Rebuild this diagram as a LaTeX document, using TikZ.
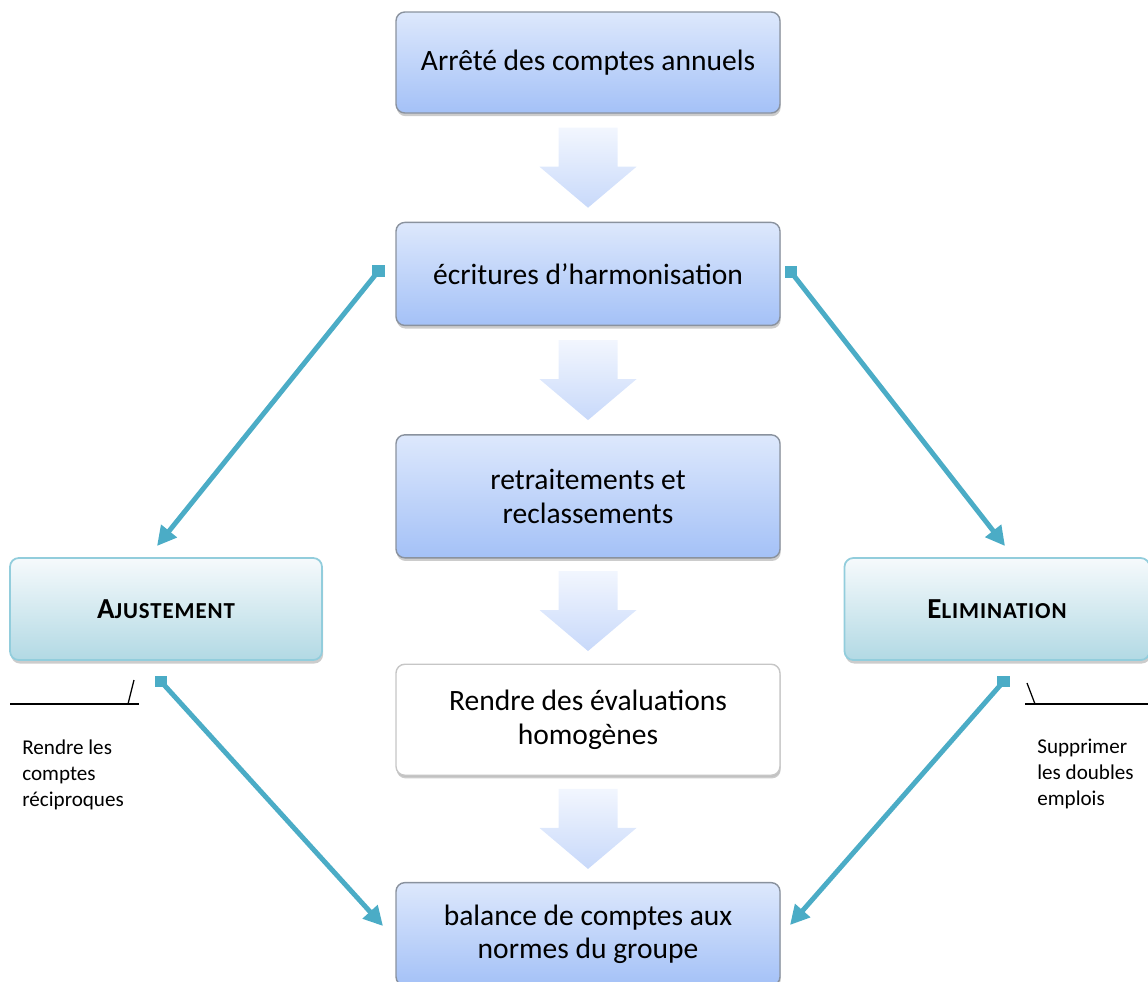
\documentclass[tikz,border=0pt]{standalone}
\usepackage{fontspec}
\setmainfont{Carlito}
\usetikzlibrary{arrows.meta,calc,positioning,shadows}

\definecolor{boxtop}{HTML}{DDE8FC}
\definecolor{boxbot}{HTML}{A4C1F7}
\definecolor{boxline}{HTML}{8A929E}
\definecolor{sidetop}{HTML}{F6FAFC}
\definecolor{sidebot}{HTML}{B2D9E4}
\definecolor{sideline}{HTML}{92CDDC}
\definecolor{linkcol}{HTML}{4BACC6}
\definecolor{arrtop}{HTML}{F2F6FE}
\definecolor{arrbot}{HTML}{C8D9FA}

\newcommand\fakesc[2]{\addfontfeature{LetterSpace=4}{\fontsize{16.5}{18}\selectfont #1}{\fontsize{13}{18}\selectfont #2}}

\tikzset{
  mainbox/.style={draw=boxline, line width=0.8pt, rounded corners=5pt,
    top color=boxtop, bottom color=boxbot, minimum width=7.68cm,
    align=center, font=\fontsize{16.8}{19}\selectfont,
    drop shadow={shadow xshift=0.4pt, shadow yshift=-1.8pt, opacity=0.4}},
  plainbox/.style={mainbox, draw=gray!45, fill=white, top color=white, bottom color=white,
    drop shadow={shadow xshift=0.3pt, shadow yshift=-1pt, opacity=0.15}},
  sidebox/.style={draw=sideline, line width=1pt, rounded corners=5pt,
    top color=sidetop, bottom color=sidebot, minimum height=2.04cm,
    font=\bfseries,
    drop shadow={shadow xshift=0.6pt, shadow yshift=-2pt, opacity=0.4}},
  blockarrow/.style={top color=arrtop, bottom color=arrbot},
  link/.style={draw=linkcol, line width=2.8pt, -{Triangle[length=11pt,width=11pt]}},
  linkend/.style={fill=linkcol},
  callout/.style={draw=black, line width=0.7pt},
  note/.style={anchor=north west, inner sep=0pt, align=left,
    font=\fontsize{12}{14.8}\selectfont}
}

\begin{document}
\begin{tikzpicture}[node distance=2.16cm]
\useasboundingbox (0,0) rectangle (22.96,-19.62);

% central chain
\node[mainbox, minimum height=2.02cm] (arrete) at (11.76,-1.25) {Arrêté des comptes annuels};
\node[mainbox, minimum height=2.06cm, below=of arrete] (harmo) {écritures d’harmonisation};
\node[mainbox, minimum height=2.46cm, below=of harmo] (retrait) {retraitements et\\reclassements};
\node[plainbox, minimum height=2.22cm, below=2.1cm of retrait] (homog) {Rendre des évaluations\\homogènes};
\node[mainbox, minimum height=2.06cm, below=2.12cm of homog] (balance) {balance de comptes aux\\normes du groupe};

% side boxes
\node[sidebox, minimum width=6.24cm] (ajust) at (3.32,-12.18) {\fakesc{A}{JUSTEMENT}};
\node[sidebox, minimum width=6.1cm] (elim) at (19.94,-12.18) {\fakesc{E}{LIMINATION}};

% block arrows between the steps
\foreach \a/\b in {arrete/harmo, harmo/retrait, retrait/homog, homog/balance}{
  \coordinate (m) at ($(\a.south)!0.5!(\b.north)$);
  \path[blockarrow] (m) +(-0.59,0.8) -- +(0.59,0.8) -- +(0.59,0.02) -- +(0.97,0.02)
    -- +(0,-0.8) -- +(-0.97,0.02) -- +(-0.59,0.02) -- cycle;
}

% link ends
\coordinate (hl) at (7.57,-5.42);
\coordinate (al) at (3.14,-10.92);
\coordinate (hr) at (15.82,-5.44);
\coordinate (er) at (20.10,-10.92);
\coordinate (au) at (3.22,-13.63);
\coordinate (bl) at (7.66,-18.52);
\coordinate (eu) at (20.07,-13.63);
\coordinate (br) at (15.80,-18.50);

\draw[link] (hl) -- (al);
\draw[link] (hr) -- (er);
\draw[link] (au) -- (bl);
\draw[link] (eu) -- (br);
\foreach \c in {hl,hr,au,eu}
  \path[linkend] (\c) +(-0.125,-0.115) rectangle +(0.125,0.115);

% callouts
\draw[callout] (0.20,-14.08) -- (2.78,-14.08);
\draw[callout] (2.56,-14.08) -- (2.68,-13.60);
\draw[callout] (20.50,-14.08) -- (22.96,-14.08);
\draw[callout] (20.70,-14.08) -- (20.54,-13.66);

\node[note] (recip) at (0.44,-14.78) {Rendre les\\comptes\\réciproques};
\node[note] (suppr) at (20.74,-14.78) {Supprimer\\les doubles\\emplois};
\end{tikzpicture}
\end{document}
